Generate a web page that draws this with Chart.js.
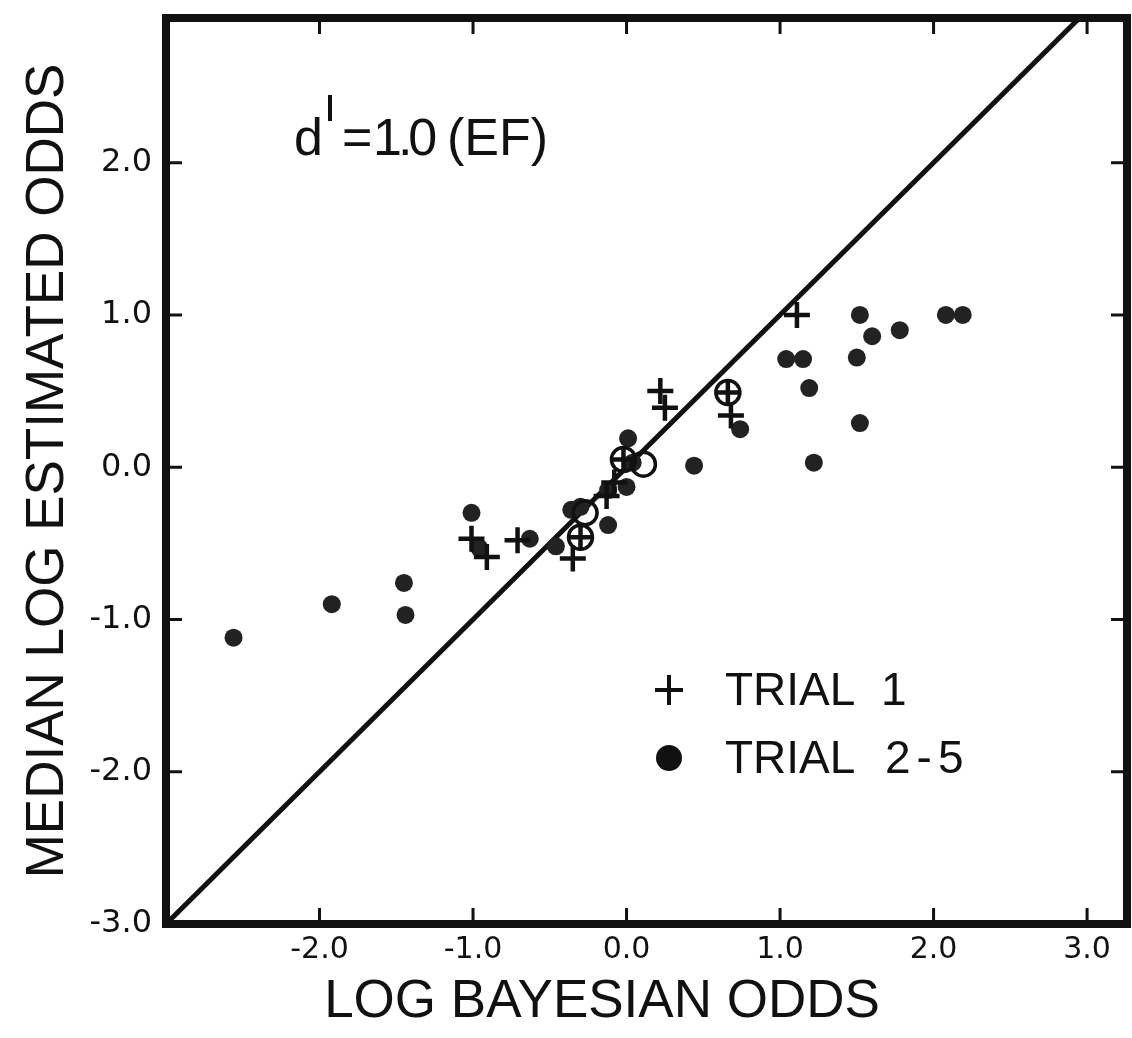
<!DOCTYPE html>
<html>
<head>
<meta charset="utf-8">
<script src="https://cdn.jsdelivr.net/npm/chart.js@4.4.0/dist/chart.umd.min.js"></script>
<style>
  html, body { margin: 0; padding: 0; overflow: hidden; background: #fff; }
  canvas { display: block; }
</style>
</head>
<body>
<canvas id="myChart" width="1132" height="1038"></canvas>
<script>
// trial 1 medians (plus signs)
const trial1X = [-1.01, -0.91, -0.71, -0.35, -0.30, -0.13, -0.08, -0.02, 0.22, 0.25, 0.66, 0.68, 1.11];
const trial1Y = [-0.47, -0.59, -0.48, -0.60, -0.46, -0.19, -0.10, 0.05, 0.50, 0.39, 0.49, 0.34, 1.00];
// trials 2-5 medians (filled dots)
const trial25X = [-2.56, -1.92, -1.45, -1.44, -1.01, -0.96, -0.63, -0.46, -0.36, -0.30, -0.12, -0.12, 0.00, 0.01,
                  0.04, 0.44, 0.74, 1.04, 1.15, 1.19, 1.22, 1.50, 1.52, 1.52, 1.60, 1.78, 2.08, 2.19];
const trial25Y = [-1.12, -0.90, -0.76, -0.97, -0.30, -0.53, -0.47, -0.52, -0.28, -0.26, -0.38, -0.15, -0.13, 0.19,
                  0.03, 0.01, 0.25, 0.71, 0.71, 0.52, 0.03, 0.72, 1.00, 0.29, 0.86, 0.90, 1.00, 1.00];
// circled points
const circledX = [-0.30, -0.27, -0.02, 0.11, 0.66];
const circledY = [-0.46, -0.30, 0.05, 0.02, 0.49];
// identity line
const diagX = [-3, 3.3];
const diagY = [-3, 3.3];

const xTicks = [-2, -1, 0, 1, 2, 3];
const yTicks = [-3, -2, -1, 0, 1, 2];
const xTitle = 'LOG BAYESIAN ODDS';
const yTitle = 'MEDIAN LOG ESTIMATED ODDS';

const family = "'Liberation Sans', Arial, sans-serif";
const numFamily = "'DejaVu Sans', sans-serif";
const ink = '#111';

function toPoints(xs, ys) {
    return xs.map((x, i) => ({ x: x, y: ys[i] }));
}

// frame, inward ticks, x title, note and legend
const decorPlugin = {
    id: 'decor',
    afterDraw(chart) {
        const c = chart.ctx;
        const a = chart.chartArea;
        const xs = chart.scales.x;
        const ys = chart.scales.y;
        c.save();
        c.strokeStyle = ink;
        c.lineWidth = 3;
        xTicks.forEach(v => {
            let px = xs.getPixelForValue(v);
            c.beginPath();
            c.moveTo(px, a.bottom); c.lineTo(px, a.bottom - 16);
            c.moveTo(px, a.top); c.lineTo(px, a.top + 16);
            c.stroke();
        });
        yTicks.forEach(v => {
            if (v == -3) return;
            let py = ys.getPixelForValue(v);
            c.beginPath();
            c.moveTo(a.left, py); c.lineTo(a.left + 16, py);
            c.moveTo(a.right, py); c.lineTo(a.right - 16, py);
            c.stroke();
        });
        c.lineWidth = 8;
        c.strokeRect(a.left, a.top, a.right - a.left, a.bottom - a.top);

        // x axis title, set a little left of centre as in the original
        c.fillStyle = ink;
        c.font = '53px ' + family;
        c.textAlign = 'center';
        c.textBaseline = 'middle';
        c.fillText(xTitle, xs.getPixelForValue(-0.16), a.bottom + 78);

        // d' = 1.0 (EF)
        c.textAlign = 'left';
        c.textBaseline = 'alphabetic';
        c.font = '52px ' + family;
        c.fillText('d', a.left + 128, a.top + 137);
        c.fillText('=', a.left + 176, a.top + 137);
        c.fillText('(EF)', a.left + 281, a.top + 137);
        c.letterSpacing = '-4px';
        c.fillText('1.0', a.left + 207, a.top + 137);
        c.letterSpacing = '0px';
        c.lineWidth = 4;
        c.beginPath();
        c.moveTo(a.left + 164, a.top + 77); c.lineTo(a.left + 164, a.top + 103);
        c.stroke();

        // legend
        let lx = a.left + 503;
        let ly1 = a.top + 672;
        let ly2 = a.top + 740;
        c.lineWidth = 4;
        c.beginPath();
        c.moveTo(lx - 14, ly1); c.lineTo(lx + 14, ly1);
        c.moveTo(lx, ly1 - 15); c.lineTo(lx, ly1 + 15);
        c.stroke();
        c.beginPath();
        c.arc(lx, ly2, 13, 0, Math.PI * 2);
        c.fill();
        c.font = '46px ' + family;
        c.textBaseline = 'middle';
        c.fillText('TRIAL', lx + 56, ly1 + 2);
        c.fillText('1', lx + 212, ly1 + 2);
        c.fillText('TRIAL', lx + 56, ly2 + 2);
        c.letterSpacing = '6px';
        c.fillText('2-5', lx + 216, ly2 + 2);
        c.restore();
    }
};

const ctx = document.getElementById('myChart');
const myChart = new Chart(ctx, {
    type: 'scatter',
    data: {
        datasets: [{
            label: 'Trial 1',
            data: toPoints(trial1X, trial1Y),
            pointStyle: 'cross',
            pointRadius: 13,
            borderColor: ink,
            borderWidth: 4.5
        }, {
            label: 'circled',
            data: toPoints(circledX, circledY),
            pointStyle: 'circle',
            pointRadius: 12,
            borderColor: ink,
            borderWidth: 3.5,
            backgroundColor: 'rgba(0,0,0,0)'
        }, {
            label: 'Trial 2-5',
            data: toPoints(trial25X, trial25Y),
            pointStyle: 'circle',
            pointRadius: 9,
            borderWidth: 0,
            backgroundColor: '#222'
        }, {
            type: 'line',
            label: 'identity',
            data: toPoints(diagX, diagY),
            borderColor: ink,
            borderWidth: 5,
            pointRadius: 0,
            fill: false
        }]
    },
    options: {
        responsive: false,
        animation: false,
        layout: { autoPadding: false, padding: { top: 18, right: 5, left: 0, bottom: 0 } },
        plugins: {
            legend: { display: false },
            tooltip: { enabled: false }
        },
        scales: {
            x: {
                type: 'linear',
                min: -3,
                max: 3.26,
                afterFit: s => {
                    s.height = 114;
                    s.paddingLeft = 0;
                    s.paddingRight = 0;
                },
                afterBuildTicks: s => { s.ticks = xTicks.map(v => ({ value: v })); },
                grid: { display: false },
                border: { display: false },
                ticks: {
                    color: ink,
                    font: { family: numFamily, size: 30 },
                    padding: 0,
                    maxRotation: 0,
                    autoSkip: false,
                    callback: v => v.toFixed(1)
                }
            },
            y: {
                type: 'linear',
                min: -3,
                max: 2.95,
                afterFit: s => {
                    s.width = 166;
                    s.paddingTop = 0;
                    s.paddingBottom = 0;
                },
                afterBuildTicks: s => { s.ticks = yTicks.map(v => ({ value: v })); },
                grid: { display: false },
                border: { display: false },
                ticks: {
                    color: ink,
                    font: { family: numFamily, size: 32 },
                    padding: 6,
                    autoSkip: false,
                    callback: v => v.toFixed(1)
                },
                title: {
                    display: true,
                    text: yTitle,
                    color: ink,
                    font: { family: family, size: 53 },
                    padding: { top: 17, bottom: 0 }
                }
            }
        }
    },
    plugins: [decorPlugin]
});
</script>
</body>
</html>
